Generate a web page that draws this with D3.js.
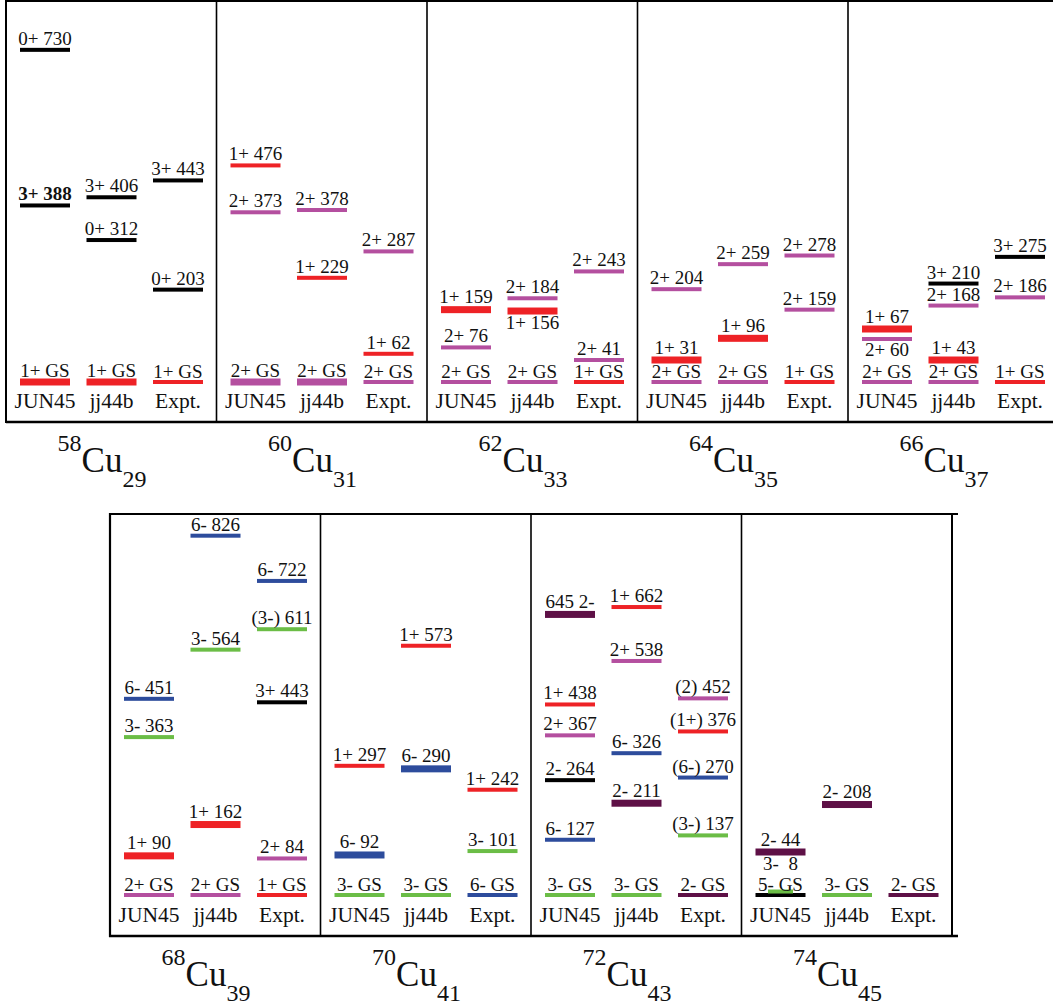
<!DOCTYPE html>
<html><head><meta charset="utf-8">
<script src="https://cdn.jsdelivr.net/npm/d3@7"></script>
<style>
html,body{margin:0;padding:0;background:#fff;}
svg{display:block;}
text{white-space:pre;fill:#111;font-family:"Liberation Serif","DejaVu Serif","Times New Roman",Times,serif;}
</style></head><body>
<svg id="chart" width="1053" height="1006"></svg>
<script>
// ---- data ----
const massNumbers = [58, 60, 62, 64, 66, 68, 70, 72, 74];
const neutronNumbers = [29, 31, 33, 35, 37, 39, 41, 43, 45];
const models = ["JUN45", "jj44b", "Expt."];

// [model, spin-parity, energy keV] (energy 0 = ground state)
const levels58 = [["JUN45","0+",730],["JUN45","3+",388],["JUN45","1+",0],
  ["jj44b","3+",406],["jj44b","0+",312],["jj44b","1+",0],
  ["Expt.","3+",443],["Expt.","0+",203],["Expt.","1+",0]];
const levels60 = [["JUN45","1+",476],["JUN45","2+",373],["JUN45","2+",0],
  ["jj44b","2+",378],["jj44b","1+",229],["jj44b","2+",0],
  ["Expt.","2+",287],["Expt.","1+",62],["Expt.","2+",0]];
const levels62 = [["JUN45","1+",159],["JUN45","2+",76],["JUN45","2+",0],
  ["jj44b","2+",184],["jj44b","1+",156],["jj44b","2+",0],
  ["Expt.","2+",243],["Expt.","2+",41],["Expt.","1+",0]];
const levels64 = [["JUN45","2+",204],["JUN45","1+",31],["JUN45","2+",0],
  ["jj44b","2+",259],["jj44b","1+",96],["jj44b","2+",0],
  ["Expt.","2+",278],["Expt.","2+",159],["Expt.","1+",0]];
const levels66 = [["JUN45","1+",67],["JUN45","2+",60],["JUN45","2+",0],
  ["jj44b","3+",210],["jj44b","2+",168],["jj44b","1+",43],["jj44b","2+",0],
  ["Expt.","3+",275],["Expt.","2+",186],["Expt.","1+",0]];
const levels68 = [["JUN45","6-",451],["JUN45","3-",363],["JUN45","1+",90],["JUN45","2+",0],
  ["jj44b","6-",826],["jj44b","3-",564],["jj44b","1+",162],["jj44b","2+",0],
  ["Expt.","6-",722],["Expt.","(3-)",611],["Expt.","3+",443],["Expt.","2+",84],["Expt.","1+",0]];
const levels70 = [["JUN45","1+",297],["JUN45","6-",92],["JUN45","3-",0],
  ["jj44b","1+",573],["jj44b","6-",290],["jj44b","3-",0],
  ["Expt.","1+",242],["Expt.","3-",101],["Expt.","6-",0]];
const levels72 = [["JUN45","2-",645],["JUN45","1+",438],["JUN45","2+",367],["JUN45","2-",264],["JUN45","6-",127],["JUN45","3-",0],
  ["jj44b","1+",662],["jj44b","2+",538],["jj44b","6-",326],["jj44b","2-",211],["jj44b","3-",0],
  ["Expt.","(2)",452],["Expt.","(1+)",376],["Expt.","(6-)",270],["Expt.","(3-)",137],["Expt.","2-",0]];
const levels74 = [["JUN45","2-",44],["JUN45","3-",8],["JUN45","5-",0],
  ["jj44b","2-",208],["jj44b","3-",0],
  ["Expt.","2-",0]];
const levelSets = [levels58, levels60, levels62, levels64, levels66, levels68, levels70, levels72, levels74];

// text exceptions (as printed)
const labelTextOverride = {"72|JUN45|645": "645 2-", "74|JUN45|8": "3-  8"};

// ---- styles ----
const spinColors = {"1+":"#ee2226","2+":"#b44f9f","0+":"#000000","3+":"#000000","5-":"#000000",
  "6-":"#2d4c9c","3-":"#6bbd46","2-":"#5e1046","2":"#b44f9f"};
const colorOverride = {"72|JUN45|264": "#000000"};
const boldLabels = new Set(["58|JUN45|388"]);
// label placed under the bar of the given energy (same column)
const labelUnder = {"62|jj44b|156":156, "66|JUN45|60":60, "74|JUN45|8":44};

// ---- layout ----
const svg = d3.select("#chart");
const panelW = 210.5;
const rows = [
  {left:6, bottom:422, start:0, slope:0.455, zeroOff:40},
  {left:110, bottom:936, start:5, slope:0.435, zeroOff:41}
];
const colX = d3.scalePoint().domain(models).range([39, 172]);
const barW = 50;

// frames
const fr = svg.append("g").attr("stroke","#000").attr("fill","none");
fr.append("line").attr("x1",6).attr("x2",1053).attr("y1",1).attr("y2",1).attr("stroke-width",2);
fr.append("line").attr("x1",6).attr("x2",1053).attr("y1",422).attr("y2",422).attr("stroke-width",2.5);
fr.append("line").attr("x1",6).attr("x2",6).attr("y1",0).attr("y2",423).attr("stroke-width",2);
for (let k=1;k<5;k++){
  const x = 6 + k*panelW;
  fr.append("line").attr("x1",x).attr("x2",x).attr("y1",0).attr("y2",422).attr("stroke-width",1.6);
}
fr.append("line").attr("x1",109).attr("x2",958).attr("y1",514).attr("y2",514).attr("stroke-width",2.2);
fr.append("line").attr("x1",109).attr("x2",958).attr("y1",936).attr("y2",936).attr("stroke-width",2.5);
fr.append("line").attr("x1",110).attr("x2",110).attr("y1",513).attr("y2",937).attr("stroke-width",2.2);
fr.append("line").attr("x1",952).attr("x2",952).attr("y1",513).attr("y2",937).attr("stroke-width",2);
for (let k=1;k<4;k++){
  const x = 110 + k*panelW;
  fr.append("line").attr("x1",x).attr("x2",x).attr("y1",514).attr("y2",936).attr("stroke-width",1.6);
}

function colorOf(key, jp){
  if (colorOverride[key]) return colorOverride[key];
  return spinColors[jp.replace(/[()]/g,"")] || "#000";
}

levelSets.forEach((set, i) => {
  const row = i < 5 ? rows[0] : rows[1];
  const left = row.left + (i - row.start)*panelW;
  const A = massNumbers[i];
  const y = d3.scaleLinear().domain([0, 800])
    .range([row.bottom - row.zeroOff, row.bottom - row.zeroOff - 800*row.slope]);

  const lv = set.map(([m, jp, e]) => {
    const key = `${A}|${m}|${e}`;
    return {m, jp, e, key, color: colorOf(key, jp)};
  });
  const hosts = new Set(Object.entries(labelUnder)
    .filter(([k]) => k.startsWith(A + "|"))
    .map(([k, e]) => k.split("|")[1] + "|" + e));

  const expGS = lv.find(d => d.m === "Expt." && d.e === 0);
  ["JUN45","jj44b"].forEach(m => {
    const c = lv.filter(d => d.m === m && d.color === expGS.color).sort((a,b)=>a.e-b.e)[0];
    if (c) c.thick = true;
  });

  // per-column placement: energy scale, spread apart so labels do not collide
  d3.group(lv, d => d.m).forEach(col => {
    col.sort((a,b) => a.e - b.e);
    let prev = null;
    col.forEach(d => {
      d.t = d.thick ? 7 : 4;
      d.host = hosts.has(d.m + "|" + d.e);
      const lower = prev && Math.abs(y(d.e) - prev.y) < 6;
      if (lower) { d.short = true; d.y = prev.y - (y(prev.e) - y(d.e)); return; }
      if (!prev) d.y = y(d.e);
      else {
        const gap = d.host ? 43 : (prev.host ? 10 : 22);
        d.y = Math.min(y(d.e), prev.y - gap);
      }
      prev = d;
    });
  });
  lv.forEach(d => d.w = d.short ? barW/2 : barW);

  const g = svg.append("g").attr("transform", `translate(${left},0)`);
  const sorted = lv.slice().sort((a,b)=>a.e-b.e);
  g.selectAll("rect.lvl").data(sorted).join("rect").attr("class","lvl")
    .attr("x", d => colX(d.m) - d.w/2)
    .attr("y", d => d.y - d.t/2)
    .attr("width", d => d.w)
    .attr("height", d => d.t)
    .attr("fill", d => d.color);

  g.selectAll("text.lbl").data(lv).join("text").attr("class","lbl")
    .attr("x", d => colX(d.m))
    .attr("y", d => {
      if (labelUnder[d.key] !== undefined) {
        const ref = lv.find(o => o.m === d.m && o.e === labelUnder[d.key]);
        return ref.y + ref.t/2 + 14.5;
      }
      return d.y - d.t/2 - (d.e === 0 ? 2 : 3);
    })
    .attr("text-anchor","middle")
    .attr("font-size", 19)
    .attr("font-weight", d => boldLabels.has(d.key) ? "bold" : null)
    .text(d => labelTextOverride[d.key] || `${d.jp} ${d.e === 0 ? "GS" : d.e}`);

  g.selectAll("text.model").data(models).join("text").attr("class","model")
    .attr("x", m => colX(m))
    .attr("y", row.bottom - 14)
    .attr("text-anchor","middle")
    .attr("font-size", 21.5)
    .text(m => m);

  const t = svg.append("text")
    .attr("x", left + 96).attr("y", row.bottom + 50)
    .attr("text-anchor","middle");
  t.append("tspan").attr("font-size",24).attr("dy",-21).text(A);
  t.append("tspan").attr("font-size",35).attr("dy",21).text("Cu");
  t.append("tspan").attr("font-size",24).attr("dy",15).text(neutronNumbers[i]);
});
</script>
</body></html>
